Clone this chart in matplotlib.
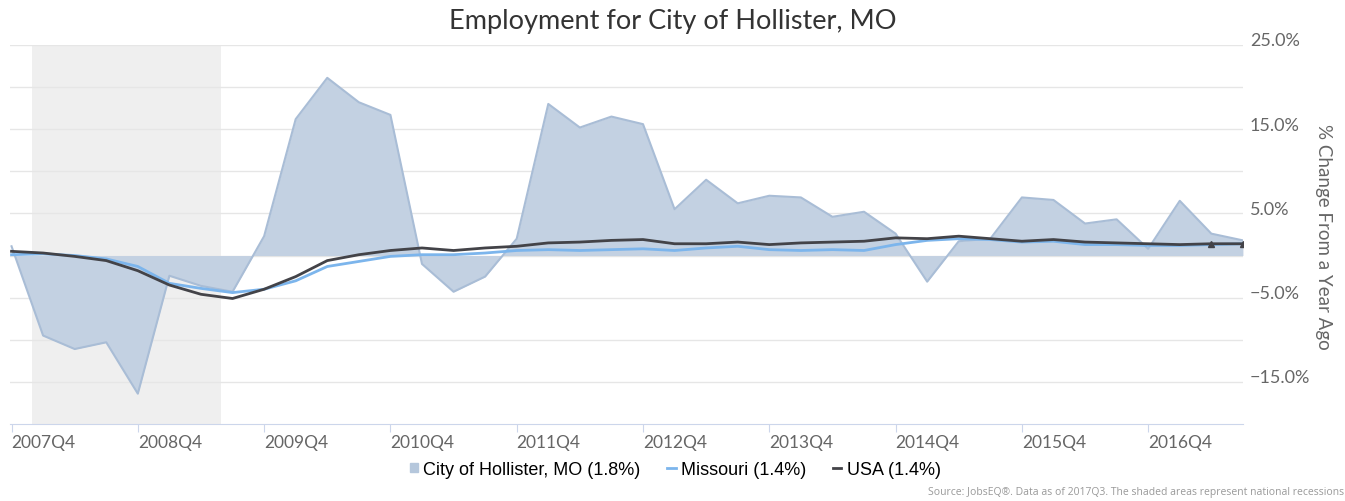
import numpy as np
import matplotlib
matplotlib.use("Agg")
import matplotlib.pyplot as plt
import matplotlib.transforms as mtransforms
from matplotlib.patches import Patch
from matplotlib.lines import Line2D

# quarterly data, 2007Q4 .. 2017Q3
quarters = [f"{y}Q{q}" for y in range(2007, 2018) for q in range(1, 5)][3:43]
hollister = [1.1, -9.5, -11.1, -10.3, -16.4, -2.4, -3.6, -4.3, 2.3, 16.2,
             21.1, 18.2, 16.7, -1.0, -4.3, -2.5, 2.0, 18.0, 15.2, 16.5,
             15.6, 5.5, 9.0, 6.2, 7.1, 6.9, 4.6, 5.2, 2.6, -3.1,
             1.7, 2.0, 6.9, 6.6, 3.8, 4.3, 0.8, 6.5, 2.6, 1.8]
missouri = [0.1, 0.2, 0.0, -0.4, -1.3, -3.3, -3.9, -4.4, -4.0, -3.0,
            -1.3, -0.7, -0.1, 0.1, 0.1, 0.3, 0.6, 0.7, 0.6, 0.7,
            0.8, 0.6, 0.9, 1.1, 0.7, 0.6, 0.7, 0.6, 1.3, 1.8,
            2.0, 1.9, 1.6, 1.7, 1.3, 1.3, 1.2, 1.2, 1.3, 1.4]
usa = [0.5, 0.3, -0.1, -0.6, -1.8, -3.5, -4.6, -5.1, -4.0, -2.5,
       -0.6, 0.1, 0.6, 0.9, 0.6, 0.9, 1.1, 1.5, 1.6, 1.8,
       1.9, 1.4, 1.4, 1.6, 1.3, 1.5, 1.6, 1.7, 2.1, 2.0,
       2.3, 2.0, 1.7, 1.9, 1.6, 1.5, 1.4, 1.3, 1.4, 1.4]
recession = (0.66, 6.64)
x_labels = ["2007Q4", "2008Q4", "2009Q4", "2010Q4", "2011Q4",
            "2012Q4", "2013Q4", "2014Q4", "2015Q4", "2016Q4"]
y_labeled = [25, 15, 5, -5, -15]

font = "Lato"
x = np.arange(len(quarters))

fig = plt.figure(figsize=(13.45, 5.02), dpi=100)
ax = fig.add_axes([0.0074, 0.1534, 0.9167, 0.755])

ax.axvspan(*recession, color="#efefef", zorder=0, lw=0)
ax.fill_between(x, hollister, 0, color="#c3d1e2", lw=0, zorder=2)
ax.plot(x, hollister, color="#a9bdd6", lw=1.5, zorder=2)
ax.plot(x, missouri, color="#7cb5ec", lw=2, zorder=3)
ax.plot(x, usa, color="#434348", lw=2, zorder=4)
ax.plot(x[-2:], usa[-2:], ls="none", marker="^", ms=4, color="#434348", zorder=5)

ax.set_xlim(-0.05, 39)
ax.set_ylim(-20, 25)

# grid
ax.set_yticks(range(-15, 26, 5))
ax.grid(axis="y", color="#e6e6e6", lw=1)
ax.set_axisbelow(True)
ax.yaxis.tick_right()
ax.set_yticklabels([f"{v:.1f}%".replace("-", "\u2212") if v in y_labeled else ""
                    for v in range(-15, 26, 5)],
                   fontfamily=font, fontsize=13, color="#666666")
ax.tick_params(axis="y", length=0, pad=5)
off = mtransforms.ScaledTranslation(0, 6 / 100, fig.dpi_scale_trans)
for lab in ax.get_yticklabels():
    lab.set_transform(lab.get_transform() + off)

xt = [quarters.index(l) for l in x_labels]
ax.set_xticks(xt)
ax.set_xticklabels(x_labels, fontfamily=font, fontsize=12.5, color="#666666", ha="left")
ax.tick_params(axis="x", length=6, color="#ccd6eb", pad=1)

for s in ["top", "left", "right"]:
    ax.spines[s].set_visible(False)
ax.spines["bottom"].set_color("#ccd6eb")

fig.text(0.5, 0.957, "Employment for City of Hollister, MO", ha="center", va="center",
         fontfamily=font, fontsize=19.5, color="#333333")
fig.text(0.984, 0.528, "% Change From a Year Ago", rotation=270, ha="center", va="center",
         fontfamily=font, fontsize=13.5, color="#666666")

handles = [Patch(color="#b5c7dc"),
           Line2D([], [], color="#7cb5ec", lw=2),
           Line2D([], [], color="#434348", lw=2)]
names = ["City of Hollister, MO (1.8%)", "Missouri (1.4%)", "USA (1.4%)"]
fig.legend(handles, names, loc="center", bbox_to_anchor=(0.502, 0.063), ncol=3, frameon=False,
           prop={"family": "Liberation Sans", "size": 13}, handlelength=0.45,
           handleheight=0.45, handletextpad=0.3, columnspacing=1.5)

fig.text(0.999, 0.018, "Source: JobsEQ\u00ae. Data as of 2017Q3. The shaded areas represent national recessions",
         ha="right", va="center", fontsize=7.5, color="#999999", fontfamily="Open Sans")

fig.savefig("out.png", dpi=100)
